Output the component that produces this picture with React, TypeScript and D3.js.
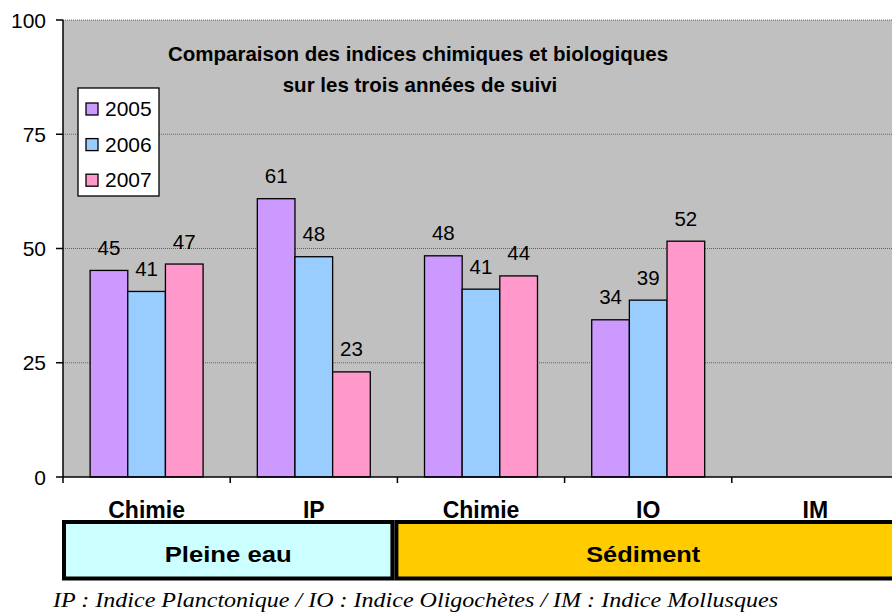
import * as d3 from 'd3';

// chart values
const categories = ['Chimie', 'IP', 'Chimie', 'IO', 'IM'];
const years = ['2005', '2006', '2007'];
const values2005 = [45.2, 60.9, 48.4, 34.4, null];
const values2006 = [40.6, 48.2, 41.1, 38.7, null];
const values2007 = [46.6, 23.0, 44.0, 51.6, null];
const yTicks = [0, 25, 50, 75, 100];
const groupLabels = ['Pleine eau', 'Sédiment'];
const groupSpans = [2, 3];
const colors = ['#CC99FF', '#99CCFF', '#FF99CC'];
const groupColors = ['#CCFFFF', '#FFCC00'];

const W = 892;
const H = 613;
const plot = { left: 63, top: 20, right: 899, bottom: 477 };
const font = '"Liberation Sans", Arial, sans-serif';

function App() {
    const series = [values2005, values2006, values2007];
    const ids = categories.map((c, i) => `${i}`);

    const x = d3.scaleBand().domain(ids).range([plot.left, plot.right]).paddingInner(0).paddingOuter(0);
    const xs = d3.scaleBand().domain(years).range([0, x.bandwidth()]).paddingInner(0).paddingOuter(0.72);
    const y = d3.scaleLinear().domain([0, 100]).range([plot.bottom, plot.top]);

    // group boxes under the axis (text in the original is a bit stretched)
    const groupTextWidth = [127, 114];
    let start = 0;
    const groups = groupLabels.map((label, i) => {
        const x0 = i === 0 ? plot.left - 1 : x(ids[start]) - 3;
        start += groupSpans[i];
        const x1 = start < ids.length ? x(ids[start]) - 3 : plot.right + 10;
        return { label, x0, x1, color: groupColors[i], tw: groupTextWidth[i] };
    });

    return (
        <svg width={W} height={H} style={{ position: 'absolute', left: 0, top: 0, display: 'block', background: '#fff' }}
            fontFamily={font}>
            <rect x={plot.left} y={plot.top} width={plot.right - plot.left} height={plot.bottom - plot.top} fill='#C0C0C0' />
            {/* dotted gridlines */}
            {yTicks.filter(t => t > 0).map(t => (
                <line key={t} x1={plot.left} x2={plot.right} y1={y(t)} y2={y(t)} stroke='#606060' strokeWidth={1} strokeDasharray='1,1' />
            ))}

            {/* bars */}
            {series.map((vals, s) => vals.map((v, i) => v === null ? null : (
                <rect key={`${s}-${i}`} x={x(ids[i]) + xs(years[s])} y={y(v)} width={xs.bandwidth()} height={y(0) - y(v)}
                    fill={colors[s]} stroke='#000' strokeWidth={1.3} />
            )))}
            {series.map((vals, s) => vals.map((v, i) => v === null ? null : (
                <text key={`l${s}-${i}`} x={x(ids[i]) + xs(years[s]) + xs.bandwidth() / 2} y={y(v) - 15.5}
                    textAnchor='middle' fontSize={20.5} fill='#000'>{Math.round(v)}</text>
            )))}

            {/* y axis */}
            <line x1={plot.left} x2={plot.left} y1={plot.top} y2={plot.bottom} stroke='#000' strokeWidth={1.5} />
            {yTicks.map(t => (
                <g key={t}>
                    <line x1={plot.left - 7} x2={plot.left} y1={y(t)} y2={y(t)} stroke='#000' strokeWidth={1.5} />
                    <text x={plot.left - 17} y={y(t) + 7.5} textAnchor='end' fontSize={21}>{t}</text>
                </g>
            ))}

            {/* x axis */}
            <line x1={plot.left} x2={plot.right} y1={plot.bottom} y2={plot.bottom} stroke='#000' strokeWidth={1.5} />
            {ids.map(id => (
                <line key={id} x1={x(id)} x2={x(id)} y1={plot.bottom} y2={plot.bottom + 6} stroke='#000' strokeWidth={1.5} />
            ))}
            {ids.map((id, i) => (
                <text key={id} x={x(id) + x.bandwidth() / 2} y={518} textAnchor='middle' fontSize={23} fontWeight='bold'>
                    {categories[i]}
                </text>
            ))}

            {/* group boxes */}
            {groups.map(g => (
                <g key={g.label}>
                    <rect x={g.x0 + 2} y={522} width={g.x1 - g.x0 - 4} height={56.5} fill={g.color} stroke='#000' strokeWidth={4} />
                    <text x={(g.x0 + Math.min(g.x1, W)) / 2} y={561.5} textAnchor='middle' fontSize={22} fontWeight='bold'
                        textLength={g.tw} lengthAdjust='spacingAndGlyphs'>{g.label}</text>
                </g>
            ))}

            {/* title */}
            <text x={418} y={61} textAnchor='middle' fontSize={20.5} fontWeight='bold'>
                <tspan x={418}>Comparaison des indices chimiques et biologiques</tspan>
                <tspan x={420} dy={31}>sur les trois années de suivi</tspan>
            </text>

            {/* legend */}
            <rect x={78} y={88} width={81} height={108} fill='#fff' stroke='#000' strokeWidth={1.3} />
            {years.map((yr, s) => (
                <g key={yr} transform={`translate(86, ${103 + s * 35.6})`}>
                    <rect x={0} y={0} width={12} height={12} fill={colors[s]} stroke='#000' strokeWidth={1.3} />
                    <text x={19} y={13} fontSize={21}>{yr}</text>
                </g>
            ))}

            {/* footnote */}
            <text x={53} y={607} fontFamily='"Liberation Serif", "Times New Roman", serif' fontStyle='italic' fontSize={21}
                textLength={725} lengthAdjust='spacingAndGlyphs'>
                IP : Indice Planctonique / IO : Indice Oligochètes / IM : Indice Mollusques
            </text>
        </svg>
    );
}

export default App;
